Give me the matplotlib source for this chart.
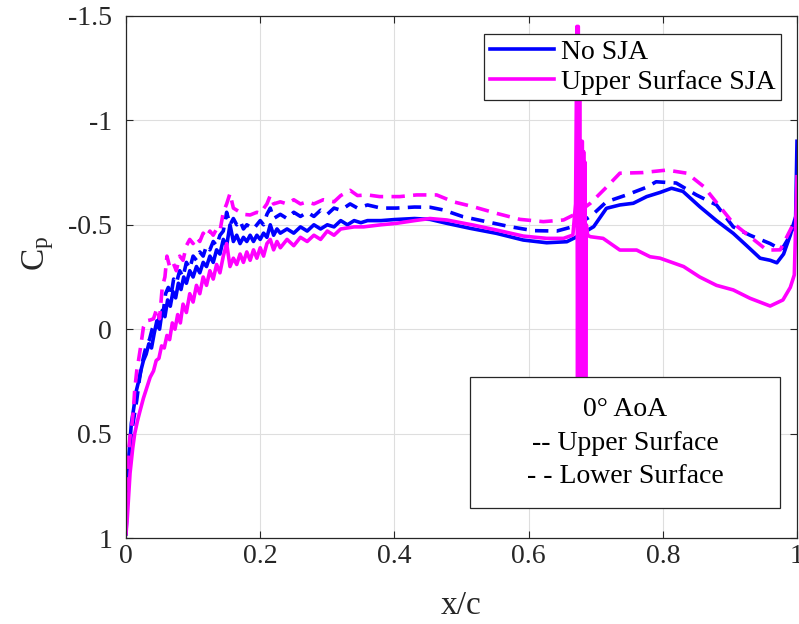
import matplotlib
matplotlib.use("Agg")
import matplotlib.pyplot as plt
from matplotlib.patches import Rectangle

plt.rcParams['font.family'] = ['Liberation Serif', 'DejaVu Serif']
plt.rcParams['mathtext.default'] = 'regular'
plt.rcParams['axes.unicode_minus'] = False

# === No SJA, upper surface (blue solid) ===
x_nosja_up = [0.000, 0.002, 0.004, 0.008, 0.011, 0.015, 0.018, 0.022, 0.026, 0.030,
              0.034, 0.038, 0.042, 0.046, 0.050, 0.054, 0.058, 0.062, 0.066, 0.070,
              0.074, 0.078, 0.082, 0.086, 0.090, 0.095, 0.100, 0.105, 0.110, 0.115,
              0.120, 0.125, 0.130, 0.135, 0.140, 0.145, 0.150, 0.155, 0.160, 0.165,
              0.170, 0.175, 0.180, 0.185, 0.190, 0.195, 0.200, 0.205, 0.210, 0.215,
              0.220, 0.225, 0.230, 0.240, 0.250, 0.260, 0.270, 0.280, 0.290, 0.300,
              0.310, 0.320, 0.330, 0.340, 0.350, 0.360, 0.380, 0.400, 0.430, 0.453,
              0.478, 0.513, 0.552, 0.592, 0.627, 0.657, 0.672, 0.697, 0.716, 0.736,
              0.756, 0.776, 0.796, 0.813, 0.830, 0.855, 0.880, 0.905, 0.925, 0.945,
              0.960, 0.970, 0.980, 0.990, 0.998, 1.000]
cp_nosja_up = [0.98, 0.80, 0.62, 0.45, 0.39, 0.30, 0.26, 0.20, 0.15, 0.12,
               0.07, 0.09, 0.02, -0.04, 0.00, -0.09, -0.06, -0.14, -0.11, -0.18,
               -0.15, -0.22, -0.19, -0.25, -0.22, -0.28, -0.25, -0.30, -0.27, -0.32,
               -0.30, -0.35, -0.32, -0.38, -0.36, -0.43, -0.40, -0.50, -0.42, -0.45,
               -0.41, -0.44, -0.42, -0.45, -0.42, -0.45, -0.43, -0.46, -0.44, -0.50,
               -0.45, -0.48, -0.46, -0.48, -0.46, -0.49, -0.47, -0.50, -0.48, -0.50,
               -0.49, -0.52, -0.50, -0.52, -0.51, -0.52, -0.52, -0.525, -0.53, -0.526,
               -0.507, -0.483, -0.459, -0.427, -0.414, -0.419, -0.443, -0.491, -0.579, -0.595,
               -0.603, -0.635, -0.655, -0.675, -0.66, -0.587, -0.52, -0.459, -0.40, -0.34,
               -0.33, -0.318, -0.36, -0.45, -0.54, -0.90]

# === No SJA, lower surface (blue dashed) ===
x_nosja_lo = [0.000, 0.002, 0.005, 0.008, 0.012, 0.016, 0.020, 0.023, 0.027, 0.031,
              0.035, 0.039, 0.043, 0.047, 0.051, 0.055, 0.059, 0.063, 0.067, 0.071,
              0.075, 0.080, 0.085, 0.090, 0.095, 0.100, 0.105, 0.110, 0.115, 0.120,
              0.125, 0.130, 0.135, 0.140, 0.145, 0.150, 0.155, 0.160, 0.165, 0.170,
              0.175, 0.180, 0.190, 0.200, 0.205, 0.210, 0.215, 0.220, 0.230, 0.240,
              0.250, 0.260, 0.270, 0.280, 0.290, 0.300, 0.310, 0.320, 0.334, 0.345,
              0.360, 0.380, 0.403, 0.430, 0.453, 0.473, 0.502, 0.537, 0.572, 0.607,
              0.642, 0.666, 0.692, 0.716, 0.746, 0.776, 0.790, 0.820, 0.850, 0.880,
              0.905, 0.930, 0.960, 0.977, 0.990, 1.000]
cp_nosja_lo = [0.98, 0.72, 0.58, 0.50, 0.42, 0.34, 0.24, 0.18, 0.12, 0.07,
               0.05, 0.00, -0.03, -0.01, -0.09, -0.07, -0.17, -0.20, -0.16, -0.24,
               -0.22, -0.28, -0.25, -0.32, -0.29, -0.35, -0.33, -0.37, -0.35, -0.40,
               -0.38, -0.42, -0.40, -0.45, -0.47, -0.56, -0.50, -0.53, -0.50, -0.52,
               -0.48, -0.50, -0.48, -0.52, -0.50, -0.55, -0.58, -0.53, -0.55, -0.53,
               -0.56, -0.54, -0.56, -0.54, -0.57, -0.55, -0.58, -0.57, -0.60, -0.58,
               -0.595, -0.58, -0.58, -0.585, -0.584, -0.571, -0.539, -0.515, -0.491, -0.472,
               -0.47, -0.491, -0.539, -0.61, -0.643, -0.68, -0.706, -0.70, -0.643, -0.595,
               -0.49, -0.45, -0.41, -0.38, -0.45, -0.52]

# === Upper Surface SJA, upper surface (magenta solid) ===
x_sja_up = [0.000, 0.002, 0.006, 0.010, 0.013, 0.017, 0.021, 0.026, 0.031, 0.036,
            0.041, 0.045, 0.049, 0.053, 0.057, 0.061, 0.065, 0.069, 0.073, 0.077,
            0.081, 0.085, 0.090, 0.095, 0.100, 0.105, 0.110, 0.115, 0.120, 0.125,
            0.130, 0.135, 0.140, 0.145, 0.150, 0.155, 0.160, 0.165, 0.170, 0.175,
            0.180, 0.185, 0.190, 0.195, 0.200, 0.205, 0.210, 0.215, 0.220, 0.225,
            0.230, 0.240, 0.250, 0.260, 0.270, 0.280, 0.290, 0.300, 0.310, 0.320,
            0.340, 0.354, 0.380, 0.403, 0.430, 0.453, 0.478, 0.517, 0.552, 0.592,
            0.627, 0.652, 0.666, 0.670,
            0.672, 0.673, 0.674, 0.675, 0.676, 0.677, 0.678, 0.679, 0.680, 0.681,
            0.682, 0.683, 0.684, 0.685, 0.686,
            0.688, 0.692, 0.711, 0.736, 0.761, 0.781, 0.796, 0.831,
            0.855, 0.880, 0.905, 0.930, 0.960, 0.979, 0.990, 0.996, 1.000]
cp_sja_up = [0.98, 0.90, 0.69, 0.57, 0.50, 0.44, 0.39, 0.33, 0.28, 0.23,
             0.20, 0.15, 0.14, 0.08, 0.09, 0.03, 0.05, -0.03, 0.00, -0.07,
             -0.03, -0.12, -0.08, -0.17, -0.13, -0.21, -0.17, -0.25, -0.21, -0.28,
             -0.24, -0.31, -0.27, -0.35, -0.41, -0.30, -0.34, -0.31, -0.36, -0.32,
             -0.37, -0.33, -0.38, -0.34, -0.39, -0.35, -0.41, -0.43, -0.38, -0.42,
             -0.39, -0.43, -0.40, -0.44, -0.42, -0.45, -0.43, -0.47, -0.45, -0.48,
             -0.49, -0.49, -0.50, -0.507, -0.52, -0.53, -0.523, -0.499, -0.475, -0.446,
             -0.435, -0.435, -0.451, -0.60,
             -1.45, 0.50, -1.45, 0.50, -1.10, 0.50, -0.90, 0.50, -0.90, 0.50,
             -0.85, 0.45, -0.80, 0.30, -0.50,
             -0.45, -0.443, -0.435, -0.379, -0.379, -0.347, -0.34, -0.30,
             -0.25, -0.21, -0.188, -0.148, -0.111, -0.14, -0.20, -0.26, -0.73]

# === Upper Surface SJA, lower surface (magenta dashed) ===
x_sja_lo = [0.000, 0.001, 0.004, 0.006, 0.009, 0.011, 0.013, 0.016, 0.018, 0.022,
            0.026, 0.030, 0.036, 0.041, 0.046, 0.050, 0.054, 0.058, 0.061, 0.065,
            0.070, 0.075, 0.080, 0.085, 0.090, 0.095, 0.100, 0.105, 0.110, 0.115,
            0.120, 0.125, 0.130, 0.135, 0.140, 0.145, 0.150, 0.155, 0.160, 0.165,
            0.175, 0.185, 0.195, 0.200, 0.210, 0.215, 0.220, 0.230, 0.240, 0.250,
            0.260, 0.270, 0.280, 0.294, 0.310, 0.320, 0.334, 0.345, 0.360, 0.378,
            0.408, 0.433, 0.463, 0.488, 0.517, 0.552, 0.587, 0.622, 0.652, 0.672,
            0.692, 0.716, 0.736, 0.770, 0.806, 0.836, 0.861, 0.885, 0.905, 0.930,
            0.955, 0.975, 0.995, 1.000]
cp_sja_lo = [0.98, 0.72, 0.58, 0.515, 0.45, 0.387, 0.29, 0.20, 0.163, 0.08,
             -0.01, -0.04, -0.044, -0.05, -0.10, -0.05, -0.20, -0.25, -0.35, -0.30,
             -0.32, -0.28, -0.35, -0.33, -0.40, -0.43, -0.41, -0.44, -0.42, -0.46,
             -0.44, -0.47, -0.45, -0.48, -0.47, -0.56, -0.60, -0.65, -0.58, -0.57,
             -0.55, -0.547, -0.56, -0.555, -0.60, -0.64, -0.60, -0.61, -0.60, -0.62,
             -0.60, -0.61, -0.60, -0.62, -0.61, -0.64, -0.665, -0.64, -0.643, -0.635,
             -0.635, -0.643, -0.643, -0.61, -0.587, -0.555, -0.526, -0.515, -0.523, -0.555,
             -0.603, -0.68, -0.747, -0.75, -0.762, -0.747, -0.683, -0.587, -0.507, -0.443,
             -0.379, -0.38, -0.507, -0.55]

xticks = [0, 0.2, 0.4, 0.6, 0.8, 1]
xtick_labels = ['0', '0.2', '0.4', '0.6', '0.8', '1']
yticks = [-1.5, -1, -0.5, 0, 0.5, 1]
ytick_labels = ['-1.5', '-1', '-0.5', '0', '0.5', '1']

blue = '#0000FF'
magenta = '#FF00FF'
lw = 2.6
dash = (3.7, 2.3)

fig = plt.figure(figsize=(7.99, 6.24), dpi=100)
ax = fig.add_axes([0.1577, 0.1378, 0.8398, 0.8366])

ax.plot(x_nosja_up, cp_nosja_up, color=blue, lw=lw, label='No SJA')
ax.plot(x_nosja_lo, cp_nosja_lo, color=blue, lw=lw, dashes=dash)
ax.plot(x_sja_up, cp_sja_up, color=magenta, lw=lw, label='Upper Surface SJA')
ax.plot(x_sja_lo, cp_sja_lo, color=magenta, lw=lw, dashes=dash)

ax.set_xlim(0, 1)
ax.set_ylim(1, -1.5)
ax.set_xticks(xticks)
ax.set_xticklabels(xtick_labels)
ax.set_yticks(yticks)
ax.set_yticklabels(ytick_labels)
ax.tick_params(direction='in', length=5, width=0.8, top=True, right=True,
               labelsize=20, colors='#262626', pad=4)
ax.tick_params(axis='y', pad=10)
for s in ax.spines.values():
    s.set_color('#262626')
    s.set_linewidth(0.9)
ax.grid(True, color='#dedede', lw=0.8)
ax.set_axisbelow(True)

ax.set_xlabel('x/c', fontsize=24, color='#262626')
ax.xaxis.set_label_coords(0.5, -0.1)
ax.set_ylabel('C$_p$', fontsize=24, color='#262626')
ax.yaxis.set_label_coords(-0.105, 0.545)

leg = ax.legend(loc='upper right', bbox_to_anchor=(0.976, 0.9655), fontsize=20,
                frameon=True, fancybox=False, framealpha=1, edgecolor='#262626',
                handlelength=2.3, handletextpad=0.25, labelspacing=0.15,
                borderpad=0.2, borderaxespad=0)
leg.get_frame().set_linewidth(0.9)
leg.set_zorder(10)

box = Rectangle((0.5127, 0.0575), 0.462, 0.2509, transform=ax.transAxes,
                facecolor='white', edgecolor='#262626', lw=0.9, zorder=8)
ax.add_patch(box)
ax.text(0.7437, 0.182, '0° AoA\n-- Upper Surface\n- - Lower Surface',
        transform=ax.transAxes, ha='center', va='center', fontsize=20,
        linespacing=1.45, zorder=9)

fig.savefig('out.png', dpi=100)
